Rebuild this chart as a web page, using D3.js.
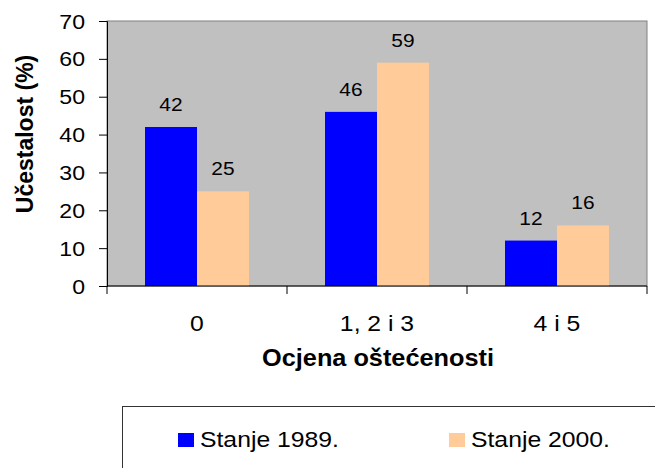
<!DOCTYPE html>
<meta charset="utf-8">
<head>
  <title>ocjena-ostecenosti</title>
</head>
<style>
  body { margin: 0; background: #fff; }
  text { font-family: Arial, "Liberation Sans", sans-serif; fill: #000; }
</style>
<body>
  <svg width="655" height="468"></svg>

  <script src="https://cdnjs.cloudflare.com/ajax/libs/d3/7.8.5/d3.min.js"></script>
  <script>
    var categories = ['0', '1, 2 i 3', '4 i 5']
    var series = ['Stanje 1989.', 'Stanje 2000.']
    var values1989 = [42, 46, 12]
    var values2000 = [25, 59, 16]
    var yTicks = [0, 10, 20, 30, 40, 50, 60, 70]
    var colors = ['#0000ff', '#ffcc99']

    var svg = d3.select('svg')
    var plotL = 107, plotR = 647, plotT = 21, plotB = 286
    var sx = 1.1 // the picture is a bit wide, text too

    var x0 = d3.scaleBand().domain(categories).range([plotL, plotR])
    var x1 = d3.scaleBand().domain(series).range([38, 142])
    var y = d3.scaleLinear().domain([0, 70]).range([plotB, plotT])

    function label(g, x, yy, str, size, anchor, bold) {
      return g.append('text')
        .attr('transform', 'translate(' + x + ',' + yy + ') scale(' + sx + ',1)')
        .attr('text-anchor', anchor)
        .style('font-size', size + 'px')
        .style('font-weight', bold ? 'bold' : 'normal')
        .text(str)
    }

    // plot area
    svg.append('rect')
      .attr('x', plotL).attr('y', plotT)
      .attr('width', plotR - plotL).attr('height', plotB - plotT)
      .attr('fill', '#c0c0c0')
      .attr('stroke', '#808080')

    var rows = categories.map(function(c, i) {
      return { cat: c, vals: [values1989[i], values2000[i]] }
    })

    var groups = svg.selectAll('g.grp')
      .data(rows)
      .enter().append('g')
      .attr('class', 'grp')
      .attr('transform', function(d) { return 'translate(' + x0(d.cat) + ',0)' })

    groups.selectAll('rect')
      .data(function(d) { return d.vals.map(function(v, j) { return { s: series[j], v: v, j: j } }) })
      .enter().append('rect')
      .attr('x', function(d) { return x1(d.s) })
      .attr('y', function(d) { return y(d.v) })
      .attr('width', x1.bandwidth())
      .attr('height', function(d) { return plotB - y(d.v) })
      .attr('fill', function(d) { return colors[d.j] })

    groups.each(function(d) {
      var g = d3.select(this)
      d.vals.forEach(function(v, j) {
        label(g, x1(series[j]) + x1.bandwidth() / 2, y(v) - 16, v, 19, 'middle')
      })
    })

    // y axis
    var yAxis = svg.append('g')
      .attr('transform', 'translate(' + plotL + ',0)')
      .call(d3.axisLeft(y).tickValues(yTicks).tickSize(8).tickFormat(''))
    yAxis.select('.domain').attr('stroke', '#000')
    yAxis.selectAll('.tick line').attr('stroke', '#000')
    yTicks.forEach(function(t) {
      label(svg, 85, y(t) + 7.5, t, 21, 'end')
    })

    // x axis, ticks on category borders
    svg.append('line')
      .attr('x1', plotL).attr('x2', plotR)
      .attr('y1', plotB).attr('y2', plotB)
      .attr('stroke', '#000')
    categories.concat(['end']).forEach(function(c, i) {
      var xx = i < categories.length ? x0(c) : plotR
      svg.append('line')
        .attr('x1', xx).attr('x2', xx)
        .attr('y1', plotB).attr('y2', plotB + 8)
        .attr('stroke', '#000')
    })
    categories.forEach(function(c) {
      label(svg, x0(c) + x0.bandwidth() / 2, 331, c, 22.5, 'middle')
    })

    // axis titles
    label(svg, 378, 366, 'Ocjena oštećenosti', 23, 'middle', true)
    svg.append('text')
      .attr('transform', 'translate(33,134) rotate(-90)')
      .attr('text-anchor', 'middle')
      .style('font-size', '23px')
      .style('font-weight', 'bold')
      .text('Učestalost (%)')

    // legend
    svg.append('rect')
      .attr('x', 122.5).attr('y', 406.5)
      .attr('width', 560).attr('height', 100)
      .attr('fill', '#fff')
      .attr('stroke', '#333')
    var legX = [178, 449]
    series.forEach(function(s, j) {
      svg.append('rect')
        .attr('x', legX[j]).attr('y', 433)
        .attr('width', 16).attr('height', 14)
        .attr('fill', colors[j])
      label(svg, legX[j] + 22, 447, s, 22.5, 'start')
    })
  </script>
</body>
</html>
